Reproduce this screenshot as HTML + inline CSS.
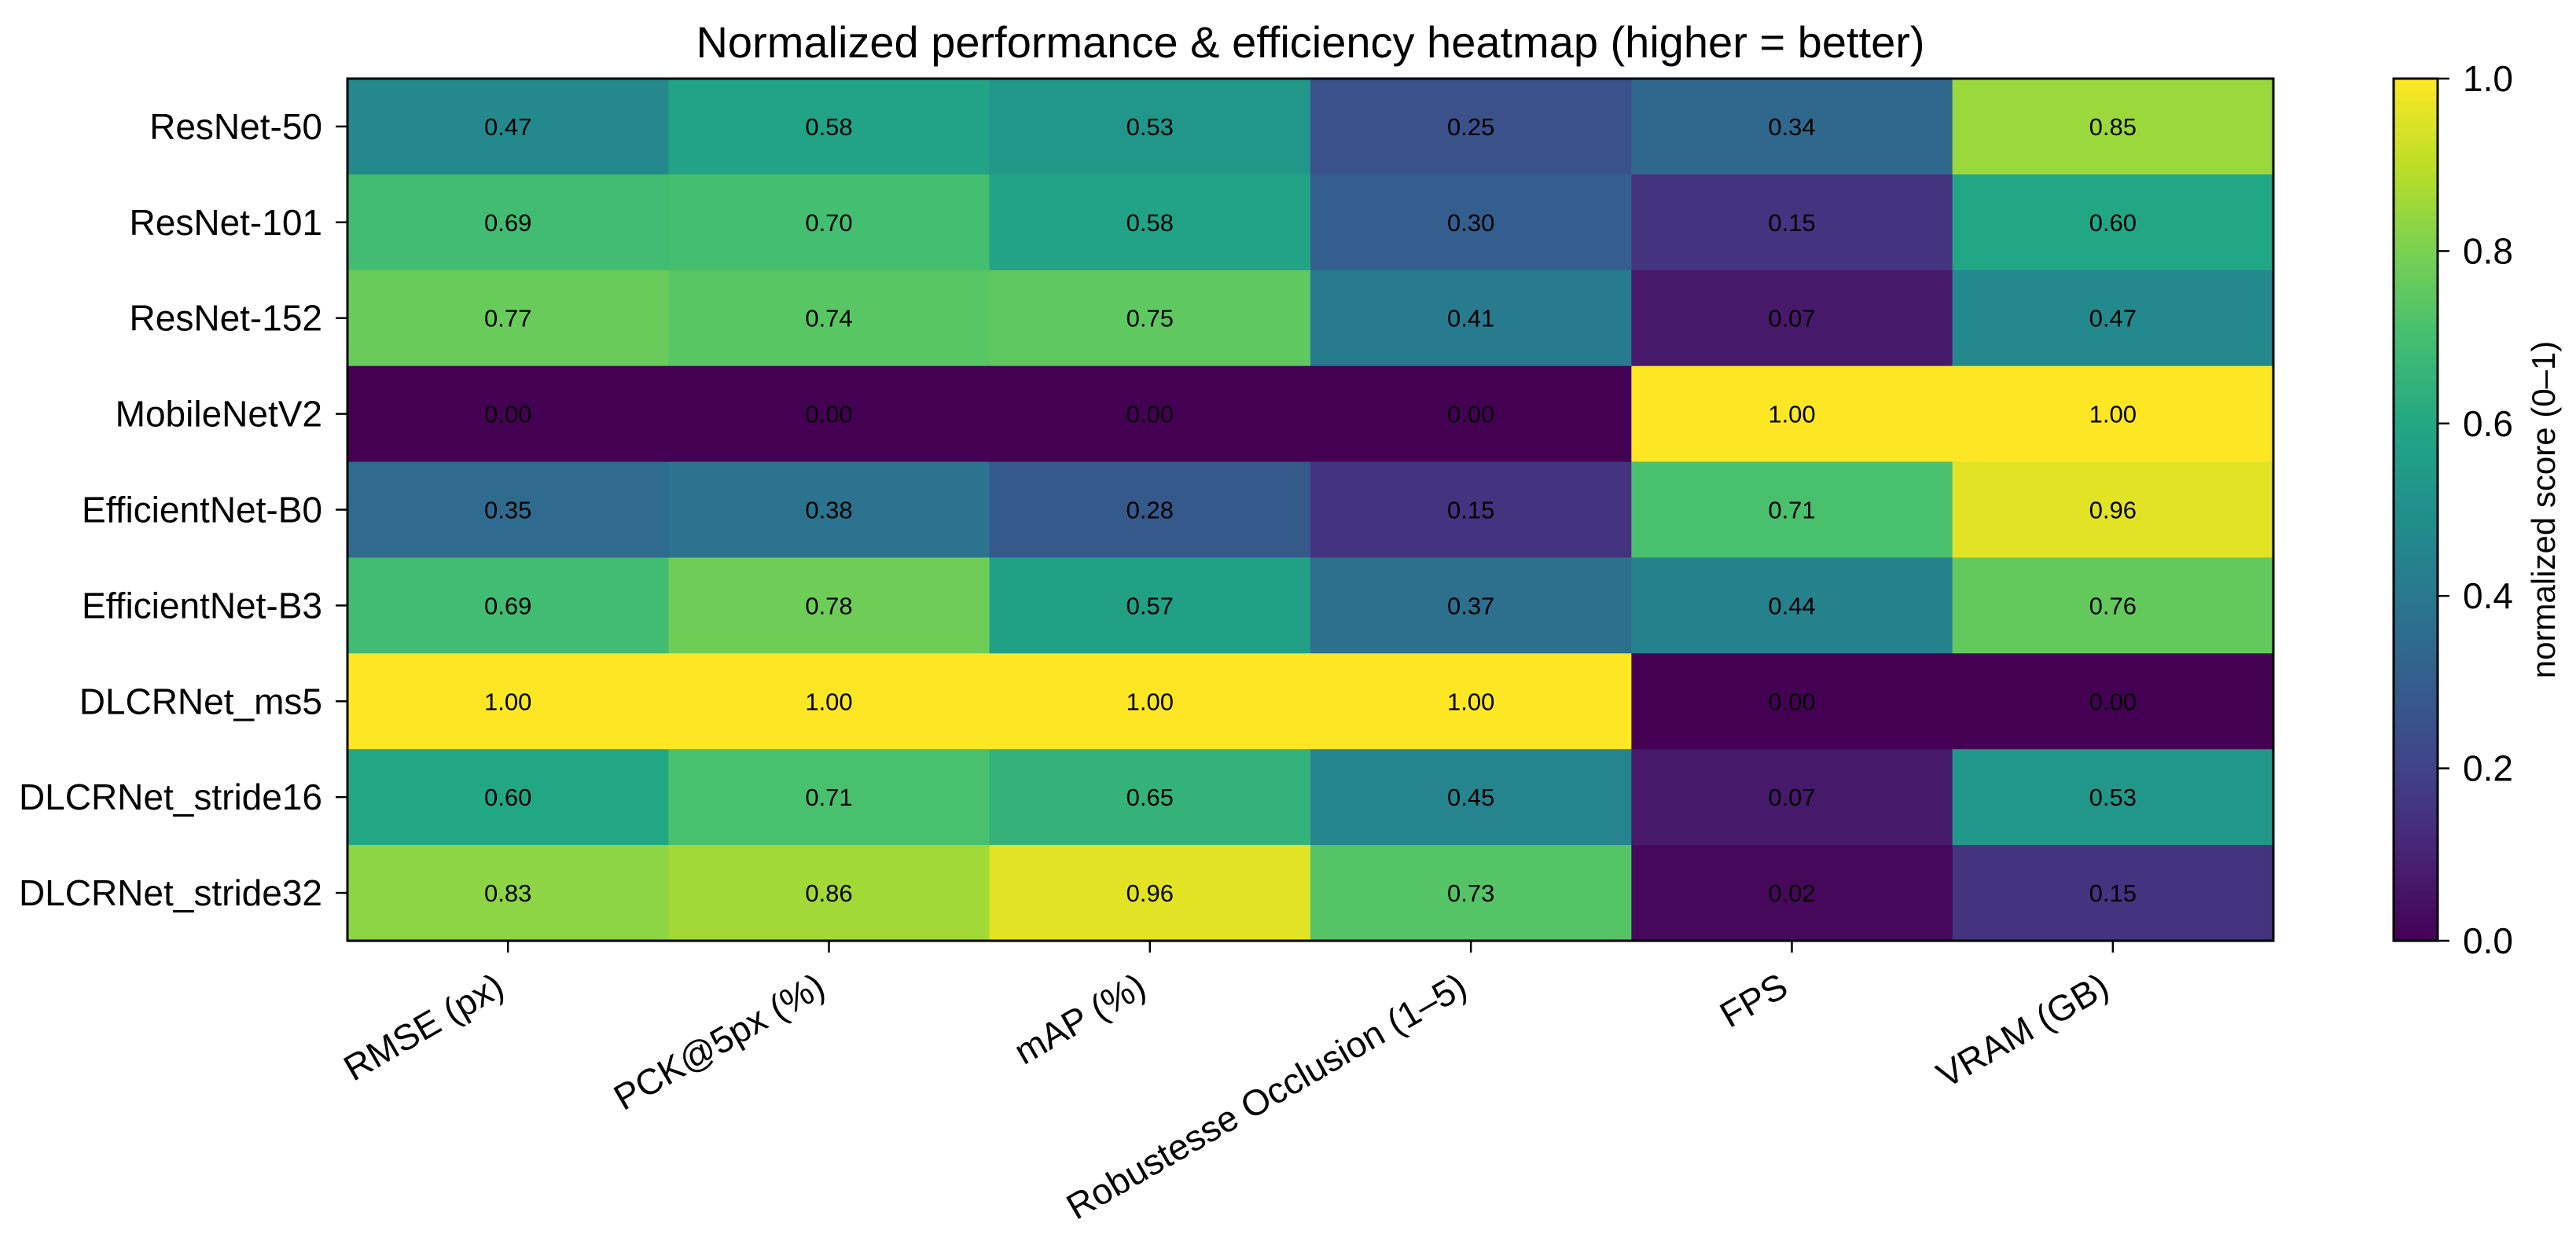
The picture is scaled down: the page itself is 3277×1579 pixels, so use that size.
<!DOCTYPE html>
<html><head><meta charset="utf-8">
<style>html,body{margin:0;padding:0;background:#fff;}svg{display:block;font-family:"Liberation Sans","DejaVu Sans",sans-serif;}</style>
</head><body>
<svg id="chart" width="3277" height="1579" viewBox="0 0 3277 1579" xmlns="http://www.w3.org/2000/svg">
<rect x="0" y="0" width="3277" height="1579" fill="#fff"/>
<text x="1667" y="73" font-size="56" text-anchor="middle" fill="#000">Normalized performance &amp; efficiency heatmap (higher = better)</text>
<g id="cells"></g><g id="axes"></g><g id="cbar"></g>
</svg>
<script>
const rowLabels = ["ResNet-50","ResNet-101","ResNet-152","MobileNetV2","EfficientNet-B0","EfficientNet-B3","DLCRNet_ms5","DLCRNet_stride16","DLCRNet_stride32"];
const colLabels = ["RMSE (px)","PCK@5px (%)","mAP (%)","Robustesse Occlusion (1–5)","FPS","VRAM (GB)"];
const rowResNet50 = [0.47,0.58,0.53,0.25,0.34,0.85];
const rowResNet101 = [0.69,0.70,0.58,0.30,0.15,0.60];
const rowResNet152 = [0.77,0.74,0.75,0.41,0.07,0.47];
const rowMobileNetV2 = [0.00,0.00,0.00,0.00,1.00,1.00];
const rowEffB0 = [0.35,0.38,0.28,0.15,0.71,0.96];
const rowEffB3 = [0.69,0.78,0.57,0.37,0.44,0.76];
const rowMs5 = [1.00,1.00,1.00,1.00,0.00,0.00];
const rowStride16 = [0.60,0.71,0.65,0.45,0.07,0.53];
const rowStride32 = [0.83,0.86,0.96,0.73,0.02,0.15];
const values = [rowResNet50,rowResNet101,rowResNet152,rowMobileNetV2,rowEffB0,rowEffB3,rowMs5,rowStride16,rowStride32];
const cbTicks = [0.0,0.2,0.4,0.6,0.8,1.0];

const NS="http://www.w3.org/2000/svg";
const L=442,R=2892,T=100,B=1197;
const CBL=3045,CBR=3101;
const nC=colLabels.length,nR=rowLabels.length;
const cw=(R-L)/nC,rh=(B-T)/nR;
const xPos=i=>L+i*cw, yPos=j=>T+j*rh, cbY=v=>B-v*(B-T);
const vir=[[68,1,84],[72,35,116],[64,67,135],[52,94,141],[41,120,142],[32,144,140],[34,167,132],[68,190,112],[121,209,81],[189,222,38],[253,231,37]];
function viridis(t){t=Math.max(0,Math.min(1,t));const p=t*10,i=Math.min(9,Math.floor(p)),f=p-i;const a=vir[i],b=vir[i+1];return `rgb(${a.map((c,k)=>Math.round(c+(b[k]-c)*f)).join(',')})`;}
function mk(tag,attrs,parent){const e=document.createElementNS(NS,tag);for(const k in attrs)e.setAttribute(k,attrs[k]);parent.appendChild(e);return e;}
const cells=document.getElementById('cells'),axes=document.getElementById('axes'),cbar=document.getElementById('cbar');
values.forEach((row,j)=>row.forEach((v,i)=>{
  const r=mk('rect',{x:xPos(i),y:yPos(j),width:cw+0.5,height:rh+0.5,fill:viridis(v)},cells);
  
  
  const t=mk('text',{x:xPos(i)+cw/2,y:yPos(j)+rh/2+11,'font-size':31,'text-anchor':'middle',fill:'#000'},cells);
  t.textContent=v.toFixed(2);
  
  
}));
const fr=mk('rect',{x:L,y:T,width:R-L,height:B-T,fill:'none',stroke:'#000','stroke-width':3},axes);


rowLabels.forEach((lab,j)=>{
  const y=yPos(j)+rh/2;
  mk('line',{x1:L-15,x2:L,y1:y,y2:y,stroke:'#000','stroke-width':2.5},axes);
  const t=mk('text',{x:L-32,y:y+16,'font-size':46,'text-anchor':'end',fill:'#000'},axes);
  t.textContent=lab;
  
  
});
colLabels.forEach((lab,i)=>{
  const x=xPos(i)+cw/2;
  mk('line',{x1:x,x2:x,y1:B,y2:B+15,stroke:'#000','stroke-width':2.5},axes);
  const ax=x-2,ay=1264;
  const t=mk('text',{x:ax,y:ay,'font-size':46,'text-anchor':'end',fill:'#000',transform:`rotate(-30 ${ax} ${ay})`},axes);
  t.textContent=lab;
  
  
});
const defs=mk('defs',{},cbar);
const g=mk('linearGradient',{id:'vg',x1:0,y1:1,x2:0,y2:0},defs);
for(let k=0;k<=10;k++)mk('stop',{offset:(k*10)+'%','stop-color':viridis(k/10)},g);
const cb=mk('rect',{x:CBL,y:T,width:CBR-CBL,height:B-T,fill:'url(#vg)',stroke:'#000','stroke-width':3},cbar);


cbTicks.forEach(v=>{
  const y=cbY(v);
  mk('line',{x1:CBR,x2:CBR+15,y1:y,y2:y,stroke:'#000','stroke-width':2.5},cbar);
  const t=mk('text',{x:CBR+32,y:y+16,'font-size':46,fill:'#000'},cbar);
  t.textContent=v.toFixed(1);
  
  
});
const cl=mk('text',{x:3250,y:(T+B)/2,'font-size':42,'text-anchor':'middle',fill:'#000',transform:`rotate(-90 3250 ${(T+B)/2})`},cbar);
cl.textContent='normalized score (0–1)';


</script>
</body></html>
